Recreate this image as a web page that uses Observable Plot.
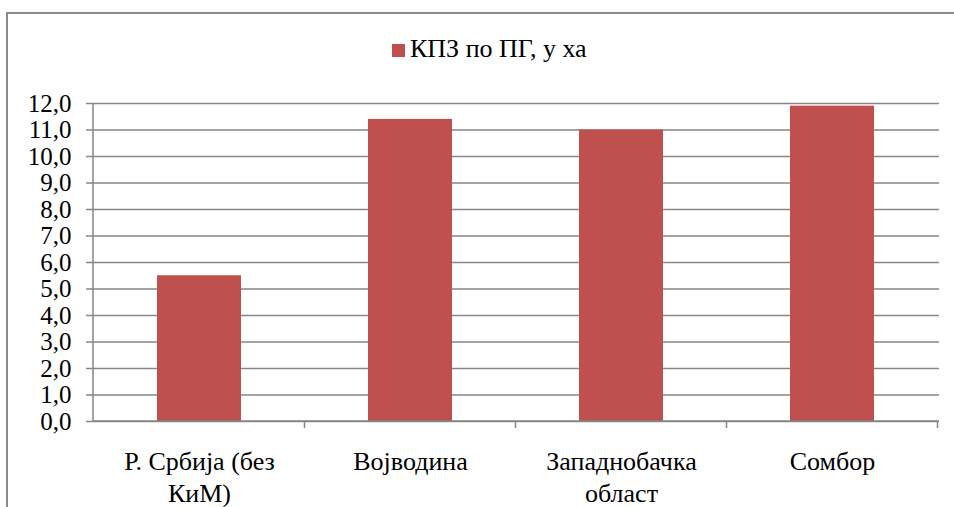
<!DOCTYPE html>
<html>
<head>
<meta charset="utf-8">
<script src="https://cdn.jsdelivr.net/npm/d3@7"></script>
<script src="https://cdn.jsdelivr.net/npm/@observablehq/plot@0.6"></script>
<style>
  html, body { margin: 0; padding: 0; background: #fff; }
  #wrap { position: relative; width: 954px; height: 507px; overflow: hidden; background: #fff; }
  #frame { position: absolute; left: 6px; top: 12px; width: 980px; height: 520px; border: 2px solid #8a8a8a; box-sizing: border-box; pointer-events: none; }
  #legend { position: absolute; left: 392px; top: 34px; display: flex; align-items: center; font-family: 'Times New Roman', 'Liberation Serif', 'DejaVu Serif', serif; font-size: 26px; color: #000; white-space: nowrap; }
  #legend .sw { width: 13px; height: 13px; background: #C0504D; margin-right: 5px; margin-top: 2px; }
  #chart { position: absolute; left: 0; top: 0; }
  #chart svg text { font-family: 'Times New Roman', 'Liberation Serif', 'DejaVu Serif', serif; }
</style>
</head>
<body>
<div id="wrap">
  <div id="chart"></div>
  <div id="frame"></div>
  <div id="legend"><span class="sw"></span><span id="legendText"></span></div>
</div>
<script>
const categories = ["Р. Србија (без КиМ)", "Војводина", "Западнобачка област", "Сомбор"];
const categoryLabels = ["Р. Србија (без\nКиМ)", "Војводина", "Западнобачка\nобласт", "Сомбор"];
const values = [5.5, 11.4, 11.0, 11.9];
const seriesName = "КПЗ по ПГ, у ха";
const yTicks = [0, 1, 2, 3, 4, 5, 6, 7, 8, 9, 10, 11, 12];

document.getElementById("legendText").textContent = seriesName;

const data = categories.map((c, i) => ({category: c, value: values[i]}));
const labelOf = new Map(categories.map((c, i) => [c, categoryLabels[i]]));
const font = "'Times New Roman', 'Liberation Serif', 'DejaVu Serif', serif";

function axisLines(index, scales, values, dimensions) {
  const ns = "http://www.w3.org/2000/svg";
  const g = document.createElementNS(ns, "g");
  g.setAttribute("stroke", "#868686");
  g.setAttribute("stroke-width", "1.5");
  const x = scales.x;
  const step = x.step(), bw = x.bandwidth();
  const left = dimensions.marginLeft;
  const right = dimensions.width - dimensions.marginRight;
  const top = dimensions.marginTop;
  const bottom = dimensions.height - dimensions.marginBottom;
  const line = (x1, y1, x2, y2) => {
    const l = document.createElementNS(ns, "line");
    l.setAttribute("x1", x1); l.setAttribute("y1", y1);
    l.setAttribute("x2", x2); l.setAttribute("y2", y2);
    g.appendChild(l);
  };
  line(left, top, left, bottom);
  line(left, bottom, right, bottom);
  for (const c of categories) {
    const bx = x(c) + bw + (step - bw) / 2;
    line(bx, bottom, bx, bottom + 7);
  }
  return g;
}

const plot = Plot.plot({
  width: 954,
  height: 507,
  marginLeft: 93,
  marginRight: 15,
  marginTop: 103,
  marginBottom: 86,
  style: {fontFamily: font, background: "transparent", color: "#000"},
  x: {type: "band", domain: categories, paddingInner: 0.6, paddingOuter: 0.3, label: null},
  y: {domain: [0, 12], label: null},
  marks: [
    Plot.ruleY(yTicks, {y: d => d, stroke: "#868686", strokeWidth: 1.5, strokeOpacity: 1}),
    Plot.barY(data, {x: "category", y: "value", fill: "#C0504D"}),
    Plot.axisY({ticks: yTicks, tickSize: 7, tickPadding: 15, stroke: "#868686", strokeWidth: 1.5,
      tickFormat: d => d.toFixed(1).replace(".", ","), fontSize: 25, fill: "#000", label: null}),
    Plot.axisX({tickSize: 0, tickPadding: 25, fontSize: 26, lineHeight: 1.25, fill: "#000",
      tickFormat: d => labelOf.get(d), label: null}),
    axisLines
  ]
});
document.getElementById("chart").appendChild(plot);
</script>
</body>
</html>
